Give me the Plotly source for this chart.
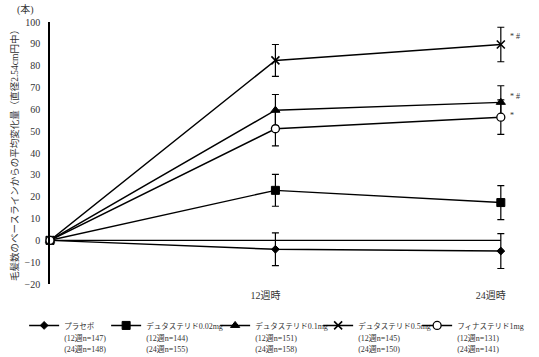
import plotly.graph_objects as go

# ---- data ----
WEEKS = [0, 12, 24]
X_TICK_VALS = [12, 24]
X_TICK_LABELS = ["12週時", "24週時"]

SERIES_KANA = ["プラセボ", "デュタステリド", "デュタステリド", "デュタステリド", "フィナステリド"]
SERIES_DOSE = ["", "0.02mg", "0.1mg", "0.5mg", "1mg"]
N_12W = [147, 144, 151, 145, 131]
N_24W = [148, 155, 158, 150, 141]

placebo = [0, -4.1, -4.9]
placebo_err = [0, 7.5, 8.0]
dut002 = [0, 22.9, 17.3]
dut002_err = [0, 7.3, 7.8]
dut01 = [0, 59.6, 63.2]
dut01_err = [0, 7.2, 7.6]
dut05 = [0, 82.4, 89.7]
dut05_err = [0, 7.3, 7.9]
fin = [0, 51.1, 56.4]
fin_err = [0, 7.8, 7.9]

SIG_MARKS = ["", "", "* #", "* #", "*"]

VALUES = [placebo, dut002, dut01, dut05, fin]
ERRORS = [placebo_err, dut002_err, dut01_err, dut05_err, fin_err]

# ---- styles ----
SERIF = "Liberation Serif, Noto Sans CJK JP, serif"
MARKERS = [
    dict(symbol="diamond", size=6, color="black", line=dict(color="black", width=1)),
    dict(symbol="square", size=8, color="black", line=dict(color="black", width=1)),
    dict(symbol="triangle-up", size=8, color="black", line=dict(color="black", width=1)),
    dict(symbol="x-thin-open", size=8, color="black", line=dict(color="black", width=1.6)),
    dict(symbol="circle", size=8, color="white", line=dict(color="black", width=1.3)),
]
LEGEND_WIDTHS = [37, 64, 58, 54, 66]
SIG_SHIFT = [0, 0, 6, 8, 2]

fig = go.Figure()
for i, (vals, errs) in enumerate(zip(VALUES, ERRORS)):
    label = (f"<span style='font-size:7.5px'>{SERIES_KANA[i]}</span>"
             f"<span style='font-size:8px'>{SERIES_DOSE[i]}</span><br>"
             f"<span style='font-size:8px'>({12}週n={N_12W[i]})</span><br>"
             f"<span style='font-size:8px'>({24}週n={N_24W[i]})</span>")
    fig.add_trace(go.Scatter(
        x=WEEKS, y=vals, name=label, mode="lines+markers",
        line=dict(color="black", width=1.4),
        marker=MARKERS[i],
        error_y=dict(type="data", array=errs, color="black", thickness=1.2, width=3.5),
        legendwidth=LEGEND_WIDTHS[i],
        cliponaxis=False,
    ))
    if SIG_MARKS[i]:
        fig.add_annotation(x=WEEKS[-1], y=vals[-1], text=SIG_MARKS[i], showarrow=False,
                           xanchor="left", xshift=7, yshift=SIG_SHIFT[i],
                           font=dict(family=SERIF, size=8, color="#333"))

# zero line from baseline to last visit
fig.add_shape(type="line", xref="x", yref="y", x0=WEEKS[0], x1=WEEKS[-1], y0=0, y1=0,
              line=dict(color="black", width=1.4), layer="below")

fig.add_annotation(xref="paper", yref="paper", x=-0.052, y=1.0, text="(本)",
                   showarrow=False, xanchor="center", yanchor="bottom", yshift=4,
                   font=dict(family=SERIF, size=10, color="#333"))

fig.update_layout(
    width=539, height=357,
    margin=dict(l=50, r=10, t=22, b=73, autoexpand=False),
    plot_bgcolor="white", paper_bgcolor="white",
    font=dict(family=SERIF, size=10, color="#333"),
    showlegend=True,
    legend=dict(orientation="h", x=-0.054, xanchor="left", y=-0.111, yanchor="top",
                font=dict(family=SERIF, size=9, color="#333"),
                valign="top", traceorder="normal", tracegroupgap=0,
                bgcolor="rgba(0,0,0,0)"),
    xaxis=dict(range=[0, 25.5], showgrid=False, zeroline=False, showline=False,
               tickvals=X_TICK_VALS, ticktext=X_TICK_LABELS, ticks="",
               tickfont=dict(family=SERIF, size=10, color="#333"),
               ticklabelshift=-10, ticklabelstandoff=4),
    yaxis=dict(range=[-20, 100], dtick=10, showgrid=False, zeroline=False,
               showline=True, linecolor="black", linewidth=1.6, ticks="",
               tickfont=dict(family=SERIF, size=10, color="#333"),
               ticklabelstandoff=6,
               title=dict(text="毛髪数のベースラインからの平均変化量（直径2.54cm円中）",
                          font=dict(family=SERIF, size=9.5, color="#333"), standoff=4)),
)

fig.write_html("out.html", config={"displayModeBar": False},
               post_script="document.body.style.margin='0';")
